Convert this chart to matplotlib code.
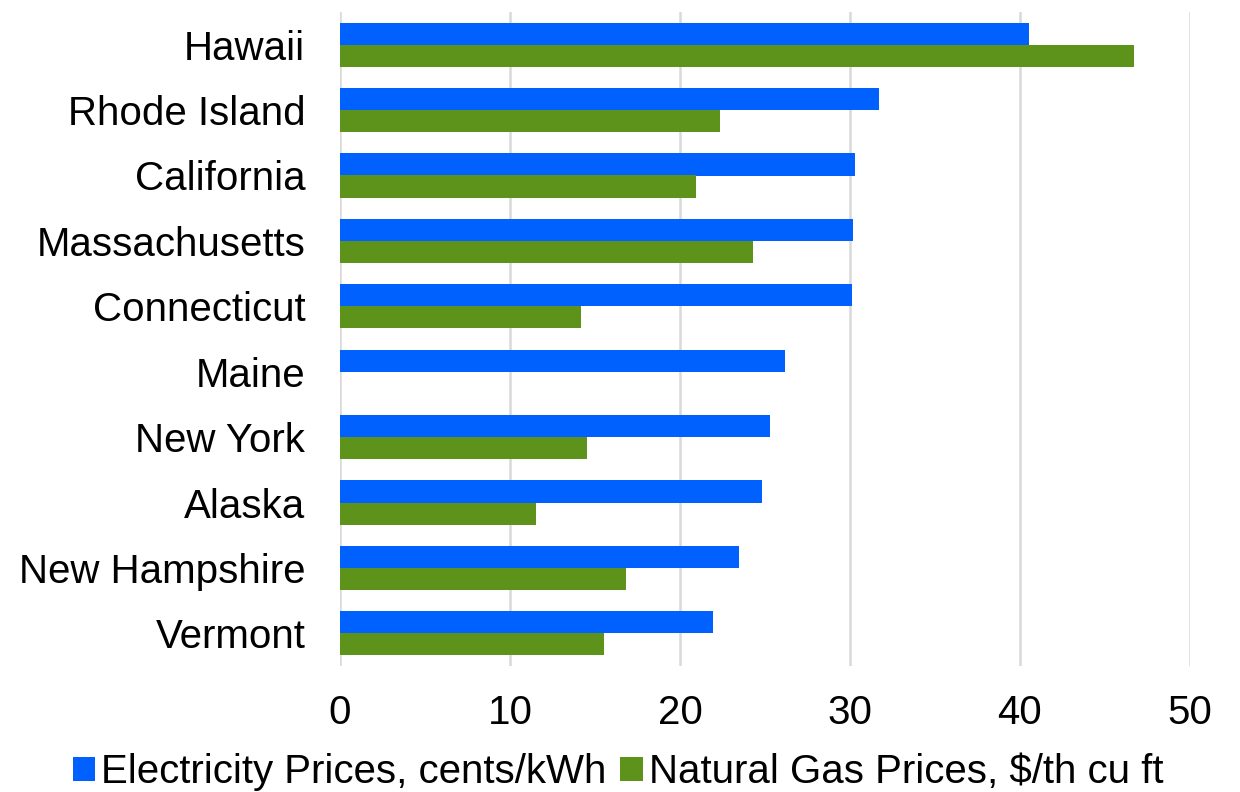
import matplotlib
matplotlib.use("Agg")
import matplotlib.pyplot as plt
import numpy as np

states = ["Hawaii", "Rhode Island", "California", "Massachusetts", "Connecticut",
          "Maine", "New York", "Alaska", "New Hampshire", "Vermont"]
electricity = [40.55, 31.7, 30.3, 30.15, 30.1, 26.2, 25.3, 24.8, 23.45, 21.95]
natural_gas = [46.7, 22.35, 20.95, 24.3, 14.2, np.nan, 14.5, 11.5, 16.85, 15.55]
xticks = [0, 10, 20, 30, 40, 50]

plt.rcParams['font.family'] = ['Liberation Sans', 'DejaVu Sans']

fig = plt.figure(figsize=(12.4, 7.92), dpi=100)
ax = fig.add_axes([340/1240, 1 - 666/792, 850/1240, (666-12)/792])

y = np.arange(len(states))
h = 0.337
blue = "#0061FE"
green = "#5D921B"
ax.barh(y - h/2, electricity, height=h, color=blue, label="Electricity Prices, cents/kWh", zorder=3)
ax.barh(y + h/2, np.nan_to_num(natural_gas, nan=0.0), height=h, color=green,
        label="Natural Gas Prices, $/th cu ft", zorder=3)

ax.set_ylim(len(states) - 0.5, -0.5)
ax.set_xlim(0, 50)
ax.set_yticks(y)
ax.set_yticklabels(states, fontsize=29)
ax.set_xticks(xticks)
ax.set_xticklabels([str(t) for t in xticks], fontsize=29)
ax.tick_params(axis='y', length=0, pad=25)
ax.tick_params(axis='x', length=0, pad=20)
for s in ax.spines.values():
    s.set_visible(False)
ax.grid(axis='x', color="#d9d9d9", linewidth=1.8, zorder=0)
ax.set_axisbelow(True)

leg = fig.legend(loc="center", bbox_to_anchor=(618/1240, 1 - 772/792), ncol=2, frameon=False,
                 fontsize=29, handlelength=0.55, handleheight=0.55, handletextpad=0.15,
                 columnspacing=0.35, borderpad=0)

fig.savefig("out.png", dpi=100)
